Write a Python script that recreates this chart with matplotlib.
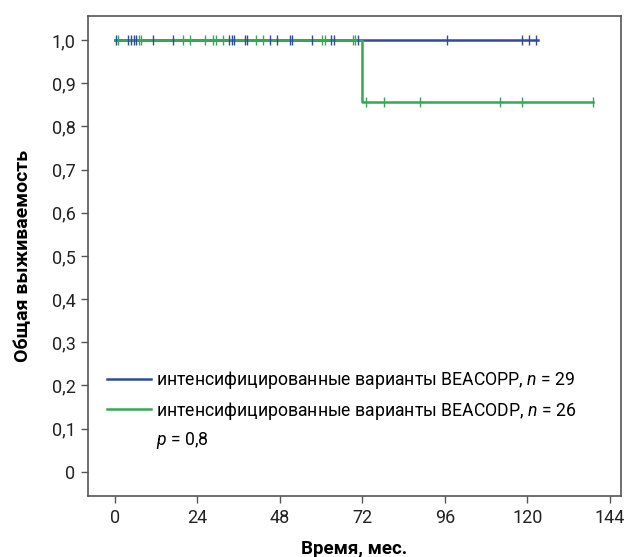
import matplotlib
matplotlib.use("Agg")
import matplotlib.pyplot as plt
from matplotlib.lines import Line2D

plt.rcParams['font.family'] = ['Roboto', 'DejaVu Sans']
plt.rcParams['mathtext.fontset'] = 'custom'
plt.rcParams['mathtext.rm'] = 'Roboto'
plt.rcParams['mathtext.it'] = 'Roboto:italic'

# BEACOPP: все цензурированы
t_beacopp = [0, 123]
s_beacopp = [1.0, 1.0]
cens_beacopp = [0.3, 3.9, 4.7, 5.4, 6.1, 11, 17, 33.3, 34.0, 34.7, 37.8, 38.5,
                45.1, 47.2, 50.9, 51.6, 57.2, 62.8, 63.8, 70.6,
                96.7, 118.4, 120.3, 122.4]

# BEACODP: одно событие на 72 мес.
t_beacodp = [0, 72, 72, 139]
s_beacodp = [1.0, 1.0, 0.857, 0.857]
cens_beacodp_t = [1.0, 6.9, 7.6, 19.7, 21.8, 26.2, 28.4, 29.4, 31.3, 41.0, 43.0,
                  60.1, 61.1, 69.1, 69.8,
                  73.1, 78.2, 88.6, 112.1, 118.3, 139.0]
cens_beacodp_s = [1.0] * 15 + [0.857] * 6

xticks = [0, 24, 48, 72, 96, 120, 144]
yticks = [0, 0.1, 0.2, 0.3, 0.4, 0.5, 0.6, 0.7, 0.8, 0.9, 1.0]
ylabels = ['0', '0,1', '0,2', '0,3', '0,4', '0,5', '0,6', '0,7', '0,8', '0,9', '1,0']

blue = '#2e4c9c'
green = '#36a853'

fig = plt.figure(figsize=(6.26, 5.57), dpi=100)
ax = fig.add_axes([0.1406, 0.1095, 0.8514, 0.8618])

ax.plot(t_beacopp, s_beacopp, color=blue, lw=1.8)
ax.plot(t_beacodp, s_beacodp, color=green, lw=1.8)
ax.plot(cens_beacopp, [1.0] * len(cens_beacopp), ls='none', marker='|',
        ms=7, mew=1.0, color=blue)
ax.plot(cens_beacodp_t, cens_beacodp_s, ls='none', marker='|',
        ms=7, mew=1.0, color=green)

ax.set_xlim(-7.85, 147.2)
ax.set_ylim(-0.056, 1.056)
ax.set_xticks(xticks)
ax.set_yticks(yticks)
ax.set_yticklabels(ylabels)
ax.tick_params(direction='out', length=5, width=1, color='#555555',
               labelsize=13, labelcolor='#222222', pad=4)
for sp in ax.spines.values():
    sp.set_color('#555555')
    sp.set_linewidth(1.2)

ax.set_xlabel('Время, мес.', fontsize=13.5, fontweight='bold', labelpad=10)
ax.set_ylabel('Общая выживаемость', fontsize=14, fontweight='bold', labelpad=14)

handles = [Line2D([], [], color=blue, lw=1.8),
           Line2D([], [], color=green, lw=1.8),
           Line2D([], [], color='none', lw=0)]
labels = ['интенсифицированные варианты BEACOPP, $n$ = 29',
          'интенсифицированные варианты BEACODP, $n$ = 26',
          '$p$ = 0,8']
ax.legend(handles, labels, loc='upper left', bbox_to_anchor=(0.035, 0.265),
          frameon=False, fontsize=12.7, handlelength=2.5, handletextpad=0.3,
          labelspacing=0.5, borderpad=0, borderaxespad=0)

fig.savefig('out.png', dpi=100)
